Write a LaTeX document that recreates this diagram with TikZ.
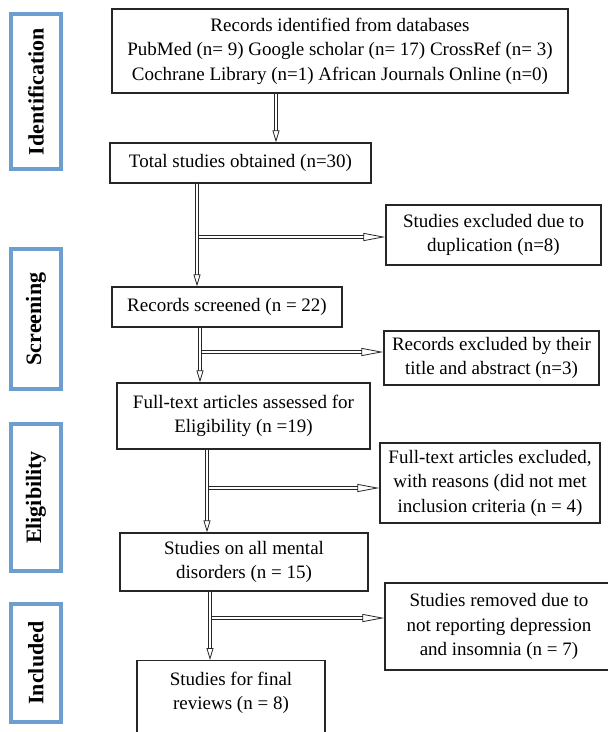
\documentclass[tikz,border=0pt]{standalone}
\usepackage{fontspec}
\setmainfont{Liberation Serif}
\usepackage{tikz}
\usetikzlibrary{arrows.meta, positioning}
\definecolor{stageblue}{RGB}{108,158,208}

\begin{document}
\begin{tikzpicture}[x=1pt, y=-1pt, font=\fontsize{19}{24.5}\selectfont]
    \tikzstyle{box} = [draw=black!85, line width=1.3pt, text centered, align=center, inner sep=2pt]
    \tikzstyle{stage} = [draw=stageblue, line width=3.5pt, minimum width=50pt, font=\fontsize{22}{24}\selectfont\bfseries]
    \tikzstyle{flow} = [draw=black!85, line width=0.8pt, double, double distance=2.6pt, -{Triangle[open, length=12pt, width=7pt, line width=0.8pt]}]
    \tikzstyle{side} = [flow, -{Triangle[open, length=22pt, width=8pt, line width=0.8pt]}]
    \useasboundingbox (0,0) rectangle (608,732);
    % stages
    \node [stage, minimum height=155pt] at (36,91.5) (ident) {\rotatebox{90}{Identification}};
    \node [stage, minimum height=140pt] at (36,319) (screen) {\rotatebox{90}{Screening}};
    \node [stage, minimum height=147pt] at (36,497.5) (elig) {\rotatebox{90}{Eligibility}};
    \node [stage, minimum height=118pt] at (36,663) (incl) {\rotatebox{90}{Included}};
    % main column
    \node [box, minimum width=456pt, minimum height=84pt] at (340,51) (records) {Records identified from databases\\PubMed (n= 9) Google scholar (n= 17) CrossRef (n= 3)\\Cochrane Library (n=1) African Journals Online (n=0)};
    \node [box, minimum width=261pt, minimum height=40pt] at (240.5,163) (total) {Total studies obtained (n=30)};
    \node [box, minimum width=230pt, minimum height=40pt] at (227,307) (screened) {Records screened (n = 22)};
    \node [box, minimum width=253pt, minimum height=66pt] at (243.5,416) (fulltext) {Full-text articles assessed for\\Eligibility (n =19)};
    \node [box, minimum width=248pt, minimum height=58pt] at (244,562) (mental) {Studies on all mental\\disorders (n = 15)};
    \node [box, minimum width=188pt, inner ysep=11pt, anchor=north] at (231,660) (final) {Studies for final\\reviews (n = 8)\\\mbox{}};
    % excluded column
    \node [box, minimum width=215pt, minimum height=60pt] at (493.5,235) (dupl) {Studies excluded due to\\duplication (n=8)};
    \node [box, minimum width=215pt, minimum height=54pt] at (491.5,358) (title) {Records excluded by their\\title and abstract (n=3)};
    \node [box, minimum width=220pt, minimum height=80pt] at (490,483) (fullexcl) {Full-text articles excluded,\\with reasons (did not met\\inclusion criteria (n = 4)};
    \node [box, minimum width=228pt, minimum height=87pt] at (499,626.5) (removed) {Studies removed due to\\not reporting depression\\and insomnia (n = 7)};
    % where the arrows run
    \coordinate (c1) at (276,0);
    \coordinate (c2) at (197,237);
    \coordinate (c3) at (200,352);
    \coordinate (c4) at (207,488);
    \coordinate (c5) at (210,618);
    \draw [flow] (records.south -| c1) -- (total.north -| c1);
    \draw [side] (c2) -- (dupl.west |- c2);
    \draw [flow] (total.south -| c2) -- (screened.north -| c2);
    \draw [side] (c3) -- (title.west |- c3);
    \draw [flow] (screened.south -| c3) -- (fulltext.north -| c3);
    \draw [side] (c4) -- (fullexcl.west |- c4);
    \draw [flow] (fulltext.south -| c4) -- (mental.north -| c4);
    \draw [side] (c5) -- (removed.west |- c5);
    \draw [flow] (mental.south -| c5) -- (final.north -| c5);
\end{tikzpicture}
\end{document}
